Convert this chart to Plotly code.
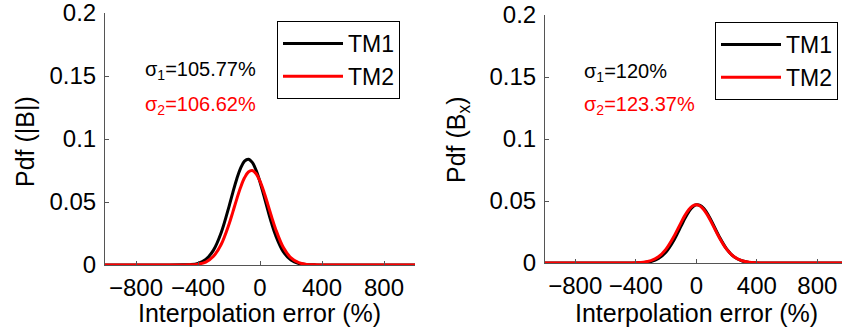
import plotly.graph_objects as go

# ---- data ----
x_left = [-1000, -600, -500, -450, -400, -350, -300, -250, -200, -175, -150, -125, -100, -75,
          -50, -25, 0, 25, 50, 75, 100, 150, 200, 250, 300, 350, 400, 500, 1000]
tm1_left = [0, 0, 0.0001, 0.0003, 0.0013, 0.0044, 0.0118, 0.0258, 0.0464, 0.0577, 0.0683, 0.0769,
            0.0824, 0.0840, 0.0814, 0.0751, 0.0659, 0.0550, 0.0437, 0.0330, 0.0238, 0.0106, 0.0039,
            0.0012, 0.0003, 0.0001, 0, 0, 0]
tm2_left = [0, 0, 0, 0.0001, 0.0007, 0.0023, 0.0069, 0.0165, 0.0324, 0.0422, 0.0523, 0.0617,
            0.0692, 0.0738, 0.0750, 0.0724, 0.0665, 0.0581, 0.0483, 0.0382, 0.0288, 0.0140, 0.0056,
            0.0018, 0.0005, 0.0001, 0, 0, 0]

x_right = [-1000, -500, -450, -400, -350, -300, -250, -200, -150, -100, -75, -50, -25, 0,
           25, 50, 75, 100, 150, 200, 250, 300, 350, 400, 450, 500, 1000]
tm1_right = [0, 0, 0, 0.0001, 0.0003, 0.0012, 0.0036, 0.0089, 0.0180, 0.0300, 0.0361, 0.0413,
             0.0451, 0.0469, 0.0465, 0.0439, 0.0395, 0.0339, 0.0216, 0.0114, 0.0049, 0.0018,
             0.0005, 0.0001, 0, 0, 0]
tm2_right = [0, 0, 0, 0.0002, 0.0006, 0.0019, 0.0050, 0.0112, 0.0209, 0.0328, 0.0384, 0.0430,
             0.0460, 0.0470, 0.0460, 0.0430, 0.0384, 0.0328, 0.0209, 0.0112, 0.0050, 0.0019,
             0.0006, 0.0002, 0, 0, 0]

series_names = ["TM1", "TM2"]
x_ticks = [-800, -400, 0, 400, 800]
y_ticks = [0, 0.05, 0.1, 0.15, 0.2]
y_ticktext = ["0", "0.05", "0.1", "0.15", "0.2"]
sigma_left = ["105.77%", "106.62%"]
sigma_right = ["120%", "123.37%"]

W, H = 842, 333
FONT = "Liberation Sans, Arial, Helvetica, sans-serif"
BLACK, RED = "#000000", "#ff0000"
FS = 24

fig = go.Figure()
fig.add_trace(go.Scatter(x=x_left, y=tm1_left, name=series_names[0], mode="lines",
                         line=dict(color=BLACK, width=3, shape="spline"),
                         xaxis="x", yaxis="y", legend="legend"))
fig.add_trace(go.Scatter(x=x_left, y=tm2_left, name=series_names[1], mode="lines",
                         line=dict(color=RED, width=3, shape="spline"),
                         xaxis="x", yaxis="y", legend="legend"))
fig.add_trace(go.Scatter(x=x_right, y=tm1_right, name=series_names[0], mode="lines",
                         line=dict(color=BLACK, width=3, shape="spline"),
                         xaxis="x2", yaxis="y2", legend="legend2"))
fig.add_trace(go.Scatter(x=x_right, y=tm2_right, name=series_names[1], mode="lines",
                         line=dict(color=RED, width=3, shape="spline"),
                         xaxis="x2", yaxis="y2", legend="legend2"))

axis_common = dict(showline=True, linecolor="#555555", linewidth=1, mirror=False,
                   ticks="inside", ticklen=4, tickcolor="#555555", tickwidth=1,
                   showgrid=False, zeroline=False, automargin=False,
                   ticklabeloverflow="allow",
                   tickfont=dict(family=FONT, size=FS, color="black"))

def px_x(p):
    return p / W

def px_y(p):
    return 1 - p / H

legend_common = dict(xanchor="left", yanchor="top", bordercolor="black", borderwidth=1,
                     bgcolor="white", font=dict(family=FONT, size=23, color="black"),
                     tracegroupgap=0, itemwidth=60)

fig.update_layout(
    width=W, height=H,
    margin=dict(l=0, r=0, t=0, b=0, autoexpand=False),
    paper_bgcolor="white", plot_bgcolor="white",
    font=dict(family=FONT, color="black"),
    xaxis=dict(domain=[px_x(105), px_x(415)], range=[-1000, 1000], tickvals=x_ticks,
               anchor="y", tickangle=0, ticklabelstandoff=1, **axis_common),
    yaxis=dict(domain=[px_y(265), px_y(13)], range=[0, 0.2], tickvals=y_ticks,
               ticktext=y_ticktext, anchor="x", ticklabelstandoff=3, **axis_common),
    xaxis2=dict(domain=[px_x(545), 1.0], range=[-1000, 963], tickvals=x_ticks,
                anchor="y2", tickangle=0, ticklabelstandoff=1, **axis_common),
    yaxis2=dict(domain=[px_y(263), px_y(15)], range=[0, 0.2], tickvals=y_ticks,
                ticktext=y_ticktext, anchor="x2", ticklabelstandoff=3, **axis_common),
    legend=dict(x=px_x(277), y=px_y(21), **legend_common),
    legend2=dict(x=px_x(715), y=px_y(22), **legend_common),
    showlegend=True,
)

ann = []
# axis titles
ann.append(dict(text="Interpolation error (%)", x=px_x(259), y=px_y(313), xref="paper", yref="paper",
                xanchor="center", yanchor="middle", showarrow=False, font=dict(size=FS + 1)))
ann.append(dict(text="Interpolation error (%)", x=px_x(696), y=px_y(313), xref="paper", yref="paper",
                xanchor="center", yanchor="middle", showarrow=False, font=dict(size=FS + 1)))
ann.append(dict(text="Pdf (|B|)", x=px_x(25), y=px_y(142), xref="paper", yref="paper",
                xanchor="center", yanchor="middle", textangle=-90, showarrow=False, font=dict(size=FS + 1)))
ann.append(dict(text="Pdf (B<sub>x</sub>)", x=px_x(458), y=px_y(140), xref="paper", yref="paper",
                xanchor="center", yanchor="middle", textangle=-90, showarrow=False, font=dict(size=FS + 1)))
# sigma labels
ann.append(dict(text="σ<sub>1</sub>=" + sigma_left[0], x=px_x(143), y=px_y(70), xref="paper", yref="paper",
                xanchor="left", yanchor="middle", showarrow=False, font=dict(size=20, color=BLACK)))
ann.append(dict(text="σ<sub>2</sub>=" + sigma_left[1], x=px_x(143), y=px_y(106), xref="paper", yref="paper",
                xanchor="left", yanchor="middle", showarrow=False, font=dict(size=20, color=RED)))
ann.append(dict(text="σ<sub>1</sub>=" + sigma_right[0], x=px_x(582), y=px_y(72), xref="paper", yref="paper",
                xanchor="left", yanchor="middle", showarrow=False, font=dict(size=20, color=BLACK)))
ann.append(dict(text="σ<sub>2</sub>=" + sigma_right[1], x=px_x(582), y=px_y(106), xref="paper", yref="paper",
                xanchor="left", yanchor="middle", showarrow=False, font=dict(size=20, color=RED)))
fig.update_layout(annotations=ann)

fig.write_html("out.html")
